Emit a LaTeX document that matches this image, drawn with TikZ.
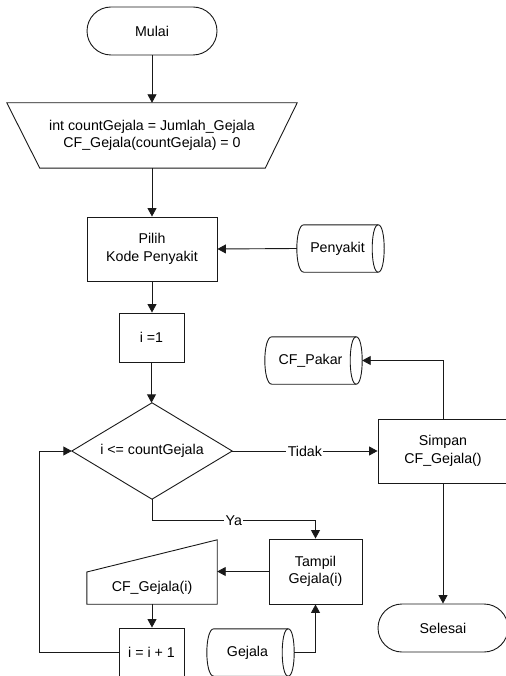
\documentclass[tikz,border=0pt]{standalone}
\usepackage{fontspec}
\setmainfont{Liberation Sans}
\usetikzlibrary{shapes.misc,arrows.meta,calc}

\begin{document}
\begin{tikzpicture}[x=1pt,y=-1pt,
  every node/.style={font=\fontsize{14.2}{17.5}\selectfont, inner sep=0pt, align=center, text=black},
  line/.style={draw=black!90, line width=0.9pt},
  flow/.style={line, -{Triangle[length=8.5pt,width=9pt]}},
  box/.style={line, rectangle},
  term/.style={line, rounded rectangle, rounded rectangle arc length=180, minimum width=130pt, minimum height=48pt},
  shell/.style={rectangle, draw=none},
  store/.style={rectangle, draw=none, minimum height=47pt},
  tag/.style={fill=white, inner xsep=1.5pt, inner ysep=1pt}
]
\useasboundingbox (0,0) rectangle (505,676);

% terminals
\node[term] (start) at (152,31) {Mulai};
\node[term] (stop) at (443,628) {Selesai};

% initialisation (trapezoid)
\node[shell, minimum width=290pt, minimum height=65pt] (init) at (152,135.5)
  {int countGejala = Jumlah\_Gejala\\CF\_Gejala(countGejala) = 0};
\draw[line] (init.north west) -- (init.north east)
  -- ($(init.south east)+(-32,0)$) -- ($(init.south west)+(33,0)$) -- cycle;

% processes
\node[box, minimum width=130pt, minimum height=64pt] (pilih) at (152,249) {Pilih\\Kode Penyakit};
\node[box, minimum width=65pt, minimum height=49pt] (one) at (151.5,337.5) {i =1};
\node[box, minimum width=130pt, minimum height=64pt] (simpan) at (443,451) {Simpan\\CF\_Gejala()};
\node[box, minimum width=93pt, minimum height=65pt] (tampil) at (315.5,571.5) {Tampil\\Gejala(i)};
\node[box, minimum width=65pt, minimum height=49pt] (incr) at (151.5,652.5) {i = i + 1};

% decision
\node[shell, minimum width=160pt, minimum height=96pt] (dec) at (152,451) {i <= countGejala};
\draw[line] (dec.north) -- (dec.east) -- (dec.south) -- (dec.west) -- cycle;

% manual input
\node[shell, minimum width=130pt, minimum height=64pt] (cfg) at (152,572) {};
\node (cfgtext) at (152,588) {CF\_Gejala(i)};
\draw[line] (cfg.west) -- (cfg.north east) -- (cfg.south east) -- (cfg.south west) -- cycle;

% stored data
\node[store, minimum width=81pt] (pen) at (337.5,248.5) {Penyakit};
\node[store, minimum width=91pt] (pakar) at (310.5,360.5) {CF\_Pakar};
\node[store, minimum width=81pt] (gej) at (247.5,652.5) {Gejala};
\foreach \n in {pen,pakar,gej}{
  \draw[line] ($(\n.north west)+(7,0)$) -- (\n.north east)
    .. controls +(8,0) and +(8,0) .. (\n.south east)
    -- ($(\n.south west)+(7,0)$)
    .. controls +(-9.3,0) and +(-9.3,0) .. ($(\n.north west)+(7,0)$) -- cycle;
  \draw[line] (\n.north east) .. controls +(-8,0) and +(-8,0) .. (\n.south east);
}

% connectors
\coordinate (loopx) at (39,0);
\draw[flow] (start.south) -- (init.north);
\draw[flow] (init.south) -- (pilih.north);
\draw[flow] (pen.west) -- (pilih.east);
\draw[flow] (pilih.south) -- (pilih.south |- one.north);
\draw[flow] (one.south) -- (one.south |- dec.north);
\draw[flow] (dec.east) -- node[tag] {Tidak} (simpan.west);
\draw[flow] (simpan.north) |- ($(pakar.east)+(6,0)$);
\draw[flow] (simpan.south) -- (stop.north);
\draw[flow] (dec.south) -- ++(0,21) -| node[tag, pos=0.25] {Ya} (tampil.north);
\draw[flow] ($(gej.east)+(6,0)$) -| (tampil.south);
\draw[flow] (tampil.west) -- (tampil.west -| cfg.east);
\draw[flow] (cfg.south) -- (cfg.south |- incr.north);
\draw[flow] (incr.west) -- (incr.west -| loopx) |- (dec.west);
\end{tikzpicture}
\end{document}
